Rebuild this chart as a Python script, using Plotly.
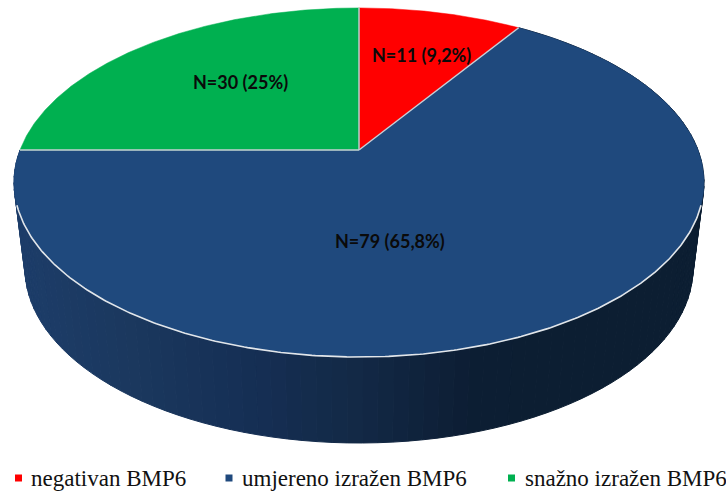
import numpy as np
import plotly.graph_objects as go

categories = ["negativan BMP6", "umjereno izražen BMP6", "snažno izražen BMP6"]
counts = [11, 79, 30]
data_labels = ["N=11 (9,2%)", "N=79 (65,8%)", "N=30 (25%)"]
colors = ["#FF0000", "#1F497D", "#00B050"]

WIDTH, HEIGHT = 726, 495
CX, CY = 359, 150
A, B, K = 339, 168.5, 0.186
DEPTH, BOTTOM_XSCALE = 86, 0.968
EDGE_RADIAL = "#C9CFD6"
EDGE_RIM = "#E2E6EA"
RIM_FROM, RIM_TO = np.radians(108), np.radians(252)
LABEL_POS = [(421, 55), (390, 241), (240, 82)]
LEGEND_MARK_X = [18.5, 229, 511.5]
LEGEND_TEXT_X = [29, 240, 523]
LEGEND_Y = 478
SHADE_X = [20, 130, 240, 360, 470, 560, 706]
SHADE_R = [29, 27, 22, 19, 13, 12, 12]
SHADE_G = [61, 56, 48, 41, 30, 30, 30]
SHADE_B = [105, 94, 86, 70, 52, 50, 50]


def project(theta, xscale=1.0, dy=0.0):
    """Perspective projection of the pie disc; theta clockwise from 12 o'clock."""
    X, Y = np.sin(theta), np.cos(theta)
    d = 1 + K * Y
    return CX + xscale * A * X / d, CY + dy - B * Y / d


fracs = np.array(counts) / sum(counts)
edges = np.concatenate([[0], np.cumsum(fracs)]) * 2 * np.pi

fig = go.Figure()

# side wall of the blue slice, as shaded strips
n = 110
ts = np.linspace(edges[1], edges[2], n + 1)
for i in range(n):
    t = np.linspace(ts[i], ts[i + 1], 3)
    x1, y1 = project(t)
    x2, y2 = project(t[::-1], BOTTOM_XSCALE, DEPTH)
    xm = (project(ts[i])[0] + project(ts[i + 1])[0]) / 2
    c = [np.interp(xm, SHADE_X, s) for s in (SHADE_R, SHADE_G, SHADE_B)]
    col = "rgb(%d,%d,%d)" % tuple(c)
    fig.add_trace(go.Scatter(x=np.r_[x1, x2, x1[0]], y=np.r_[y1, y2, y1[0]], mode="lines", fill="toself",
                             fillcolor=col, line=dict(color=col, width=1), hoverinfo="skip", showlegend=False))

# top faces
for i, cat in enumerate(categories):
    t = np.linspace(edges[i], edges[i + 1], 200)
    x, y = project(t)
    fig.add_trace(go.Scatter(x=np.r_[CX, x, CX], y=np.r_[CY, y, CY], mode="lines", fill="toself",
                             fillcolor=colors[i], line=dict(color=colors[i], width=0.5),
                             name=cat, showlegend=False))

# slice borders and the lit front rim
for e in edges[:3]:
    x, y = project(np.array([e]))
    fig.add_trace(go.Scatter(x=[CX, x[0]], y=[CY, y[0]], mode="lines",
                             line=dict(color=EDGE_RADIAL, width=1.4), hoverinfo="skip", showlegend=False))
rx, ry = project(np.linspace(RIM_FROM, RIM_TO, 300))
fig.add_trace(go.Scatter(x=rx, y=ry, mode="lines", line=dict(color=EDGE_RIM, width=1.6),
                         hoverinfo="skip", showlegend=False))

# data labels
for (lx, ly), txt in zip(LABEL_POS, data_labels):
    fig.add_annotation(x=lx, y=ly, text="<b>%s</b>" % txt, showarrow=False,
                       font=dict(family="Lato", size=18, color="#0A0A0A"))

# legend row
fig.add_trace(go.Scatter(x=LEGEND_MARK_X, y=[LEGEND_Y] * 3, mode="markers",
                         marker=dict(symbol="square", size=7, color=colors),
                         hoverinfo="skip", showlegend=False))
for tx, cat in zip(LEGEND_TEXT_X, categories):
    fig.add_annotation(x=tx, y=LEGEND_Y, text=cat, xanchor="left", showarrow=False,
                       font=dict(family="Liberation Serif", size=23, color="#111111"))

fig.update_layout(width=WIDTH, height=HEIGHT, margin=dict(l=0, r=0, t=0, b=0),
                  paper_bgcolor="white", plot_bgcolor="white", showlegend=False,
                  xaxis=dict(range=[0, WIDTH], visible=False, fixedrange=True),
                  yaxis=dict(range=[HEIGHT, 0], visible=False, fixedrange=True))
fig.write_html("out.html", config=dict(displayModeBar=False),
               post_script="document.body.style.margin='0';document.documentElement.style.overflow='hidden';")
